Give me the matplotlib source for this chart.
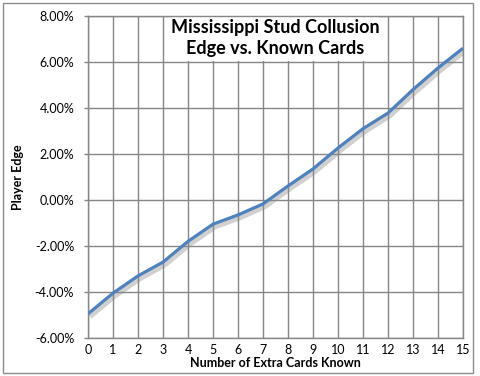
import matplotlib
matplotlib.use("Agg")
import matplotlib.pyplot as plt
from matplotlib.patches import Rectangle
import matplotlib.patheffects as pe
from matplotlib.ticker import FuncFormatter

cards_known = list(range(16))
player_edge = [-4.95, -4.05, -3.30, -2.70, -1.80, -1.05, -0.65, -0.17,
               0.61, 1.35, 2.26, 3.10, 3.78, 4.80, 5.74, 6.60]
y_ticks = [-6, -4, -2, 0, 2, 4, 6, 8]
title = "Mississippi Stud Collusion\nEdge vs. Known Cards"
x_label = "Number of Extra Cards Known"
y_label = "Player Edge"

plt.rcParams['font.family'] = ['Lato', 'DejaVu Sans']

W, H = 481, 376
fig = plt.figure(figsize=(W/100, H/100), dpi=100)
fig.patch.set_facecolor('white')

def fx(px):
    return px / W

def fy(py):
    return 1 - py / H

ax = fig.add_axes([fx(88), fy(338), fx(463) - fx(88), fy(16) - fy(338)])
grid_c = '#868686'
ax.set_xlim(0, 15)
ax.set_ylim(-6, 8)
ax.set_xticks(cards_known)
ax.set_yticks(y_ticks)
ax.yaxis.set_major_formatter(FuncFormatter(lambda v, p: f"{v:.2f}%"))
ax.grid(True, color=grid_c, linewidth=1.0)
for s in ax.spines.values():
    s.set_color(grid_c)
    s.set_linewidth(1.0)
ax.tick_params(axis='both', colors=grid_c, width=1.0,
               labelcolor='black', labelsize=9)
ax.tick_params(axis='y', length=3, pad=7)
ax.tick_params(axis='x', length=0, pad=4)

ax.plot(cards_known, player_edge, color='#4F81BD', linewidth=2.3,
        solid_joinstyle='round', solid_capstyle='butt', zorder=3,
        path_effects=[pe.SimpleLineShadow(offset=(1.5, -2.0), shadow_color='#8a8a8a', alpha=0.4, linewidth=3.5),
                      pe.Normal()])

ax.set_xlabel(x_label, fontsize=9, fontweight='bold', labelpad=1)
ax.set_ylabel(y_label, fontsize=9, fontweight='bold', labelpad=8)

# title box covering gridlines
ax.add_patch(Rectangle((fx(172), fy(61)), fx(378) - fx(172), fy(14) - fy(61),
                       transform=fig.transFigure, facecolor='white', edgecolor='none',
                       zorder=2.5, clip_on=False))
fig.text(fx(275), fy(38), title, ha='center', va='center', fontsize=13,
         fontweight='bold', linespacing=1.25, zorder=5)

# chart border
fig.patches.append(Rectangle((fx(3), fy(373)), fx(473) - fx(3), fy(3) - fy(373),
                             transform=fig.transFigure, facecolor='none',
                             edgecolor='#8c8c8c', linewidth=1.0, zorder=10))

fig.savefig('out.png', dpi=100)
